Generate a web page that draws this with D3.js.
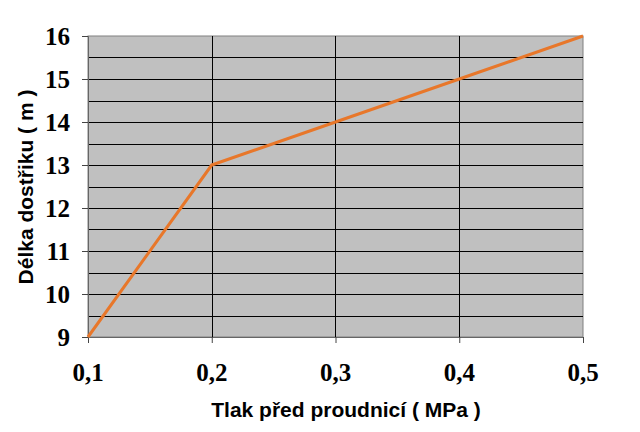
<!DOCTYPE html>
<html><head><meta charset="utf-8">
<script src="https://cdn.jsdelivr.net/npm/d3@7"></script>
<style>body{margin:0;background:#fff}</style>
</head><body>
<script>
const pressures = [0.1, 0.2, 0.3, 0.4, 0.5];
const lengths = [9, 13, 14, 15, 16];
const xTicks = [0.1, 0.2, 0.3, 0.4, 0.5];
const yTicks = [9, 10, 11, 12, 13, 14, 15, 16];
const xTitle = "Tlak před proudnicí ( MPa )";
const yTitle = "Délka dostřiku ( m )";

const W = 640, H = 432;
const m = {l: 88, r: 57, t: 36, b: 95};
const svg = d3.select("body").append("svg").attr("width", W).attr("height", H);
const x = d3.scaleLinear().domain([0.1, 0.5]).range([m.l, W - m.r]);
const y = d3.scaleLinear().domain([9, 16]).range([H - m.b, m.t]);

svg.append("rect").attr("x", m.l).attr("y", m.t).attr("width", W - m.r - m.l).attr("height", H - m.b - m.t)
  .attr("fill", "#c0c0c0").attr("stroke", "#808080").attr("stroke-width", 1);

const half = d3.range(9, 16.01, 0.5);
svg.append("g").selectAll("line").data(half.filter(v => v > 9 && v < 16)).join("line")
  .attr("x1", m.l).attr("x2", W - m.r).attr("y1", d => Math.round(y(d)) + 0.5).attr("y2", d => Math.round(y(d)) + 0.5)
  .attr("stroke", "#000").attr("stroke-width", 1);
svg.append("g").selectAll("line").data(xTicks.slice(1, -1)).join("line")
  .attr("y1", m.t).attr("y2", H - m.b).attr("x1", d => Math.round(x(d)) + 0.5).attr("x2", d => Math.round(x(d)) + 0.5)
  .attr("stroke", "#000").attr("stroke-width", 1);

const fmt = d => d3.format(".1f")(d).replace(".", ",");
const xa = svg.append("g").attr("transform", `translate(0,${H - m.b})`)
  .call(d3.axisBottom(x).tickValues(xTicks).tickFormat("").tickSize(6));
const ya = svg.append("g").attr("transform", `translate(${m.l},0)`)
  .call(d3.axisLeft(y).tickValues(yTicks).tickFormat("").tickSize(6));
[xa, ya].forEach(a => {
  a.select(".domain").attr("stroke", "#666");
  a.selectAll(".tick line").attr("stroke", "#444");
  a.selectAll(".tick text").remove();
});

const lbl = s => s.attr("font-family", "Liberation Serif").attr("font-weight", "bold").attr("font-size", 25).attr("fill", "#000")
  .style("font-family", "Liberation Serif").style("font-weight", "bold").style("font-size", "25px");
svg.append("g").selectAll("text").data(xTicks).join("text")
  .attr("x", d => x(d)).attr("y", 381).attr("text-anchor", "middle").call(lbl).text(fmt);
svg.append("g").selectAll("text").data(yTicks).join("text")
  .attr("x", 70).attr("y", d => y(d) + 8.5).attr("text-anchor", "end").call(lbl).text(d => String(d));

svg.append("path").datum(pressures.map((p, i) => [p, lengths[i]]))
  .attr("d", d3.line().x(d => x(d[0])).y(d => y(d[1])))
  .attr("fill", "none").attr("stroke", "#e8772a").attr("stroke-width", 3).attr("stroke-linejoin", "round");

const ttl = s => s.style("font-family", "Liberation Sans").style("font-weight", "bold").style("font-size", "21px").style("fill", "#000");
svg.append("text").attr("x", 346).attr("y", 417).attr("text-anchor", "middle").call(ttl).text(xTitle);
svg.append("text").attr("transform", `translate(33,187) rotate(-90)`).attr("text-anchor", "middle").call(ttl).text(yTitle);
</script>
</body></html>
